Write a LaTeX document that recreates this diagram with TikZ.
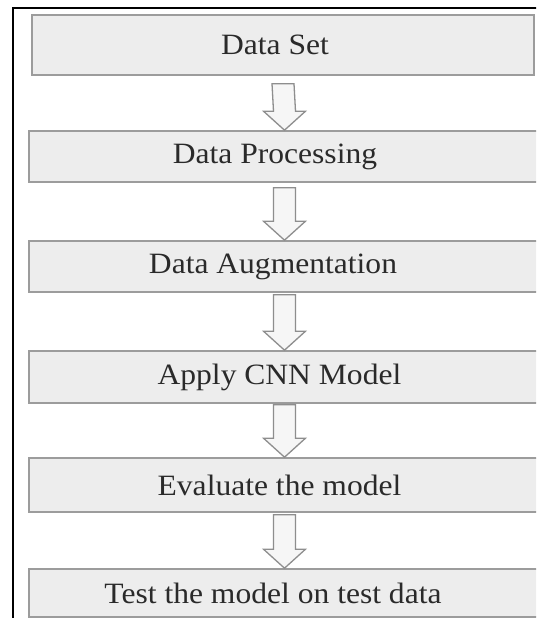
\documentclass[tikz,border=0pt]{standalone}
\usepackage{fontspec}
\setmainfont[FakeStretch=1.07]{Liberation Serif}
\usetikzlibrary{calc}
\definecolor{boxfill}{HTML}{EDEDED}
\definecolor{boxline}{HTML}{9C9C9C}
\definecolor{arrfill}{HTML}{F6F6F6}
\definecolor{arrline}{HTML}{8E8E8E}
\definecolor{txt}{HTML}{2A2A2A}
\tikzset{
  stepbox/.style={draw=boxline, line width=1.6pt, fill=boxfill, rectangle,
    inner sep=0pt},
  steptext/.style={text=txt, inner sep=0pt, font=\fontsize{29.5}{36}\selectfont},
  blockarrow/.style={draw=arrline, line width=1.3pt, fill=arrfill, line join=miter},
}
\newcommand\flowarrow[3]{%
  \draw[blockarrow] ($(#1.south)+(-11,#3)$) -- ($(#1.south)+(11,#3)$)
    -- ($(#2.north)+(11,-19)$) -- ($(#2.north)+(21,-19)$) -- (#2.north)
    -- ($(#2.north)+(-21,-19)$) -- ($(#2.north)+(-11,-19)$) -- cycle;}
\begin{document}
\begin{tikzpicture}[x=1pt,y=-1pt]
\useasboundingbox (0,0) rectangle (536,618);
\clip (0,0) rectangle (536,618);
\fill[white] (0,0) rectangle (536,618);
\draw[black, line width=2pt] (13,8) rectangle (560,640);
\node[stepbox, minimum width=502pt, minimum height=60pt,
  label={[steptext, xshift=-8pt]center:Data Set}] (s1) at (283,45) {};
\node[stepbox, minimum width=511pt, minimum height=51pt,
  label={[steptext, xshift=-9.5pt]center:Data Processing}] (s2) at (284.5,156.5) {};
\node[stepbox, minimum width=511pt, minimum height=51pt,
  label={[steptext, xshift=-11.5pt]center:Data Augmentation}] (s3) at (284.5,266.5) {};
\node[stepbox, minimum width=511pt, minimum height=52pt,
  label={[steptext, xshift=-5pt]center:Apply CNN Model}] (s4) at (284.5,377) {};
\node[stepbox, minimum width=511pt, minimum height=54pt,
  label={[steptext, xshift=-5pt]center:Evaluate the model}] (s5) at (284.5,485) {};
\node[stepbox, minimum width=511pt, minimum height=48pt,
  label={[steptext, xshift=-11.5pt]center:Test the model on test data}] (s6) at (284.5,593) {};
\flowarrow{s1}{s2}{8}
\flowarrow{s2}{s3}{5}
\flowarrow{s3}{s4}{2}
\flowarrow{s4}{s5}{0.8}
\flowarrow{s5}{s6}{2}
\end{tikzpicture}
\end{document}
